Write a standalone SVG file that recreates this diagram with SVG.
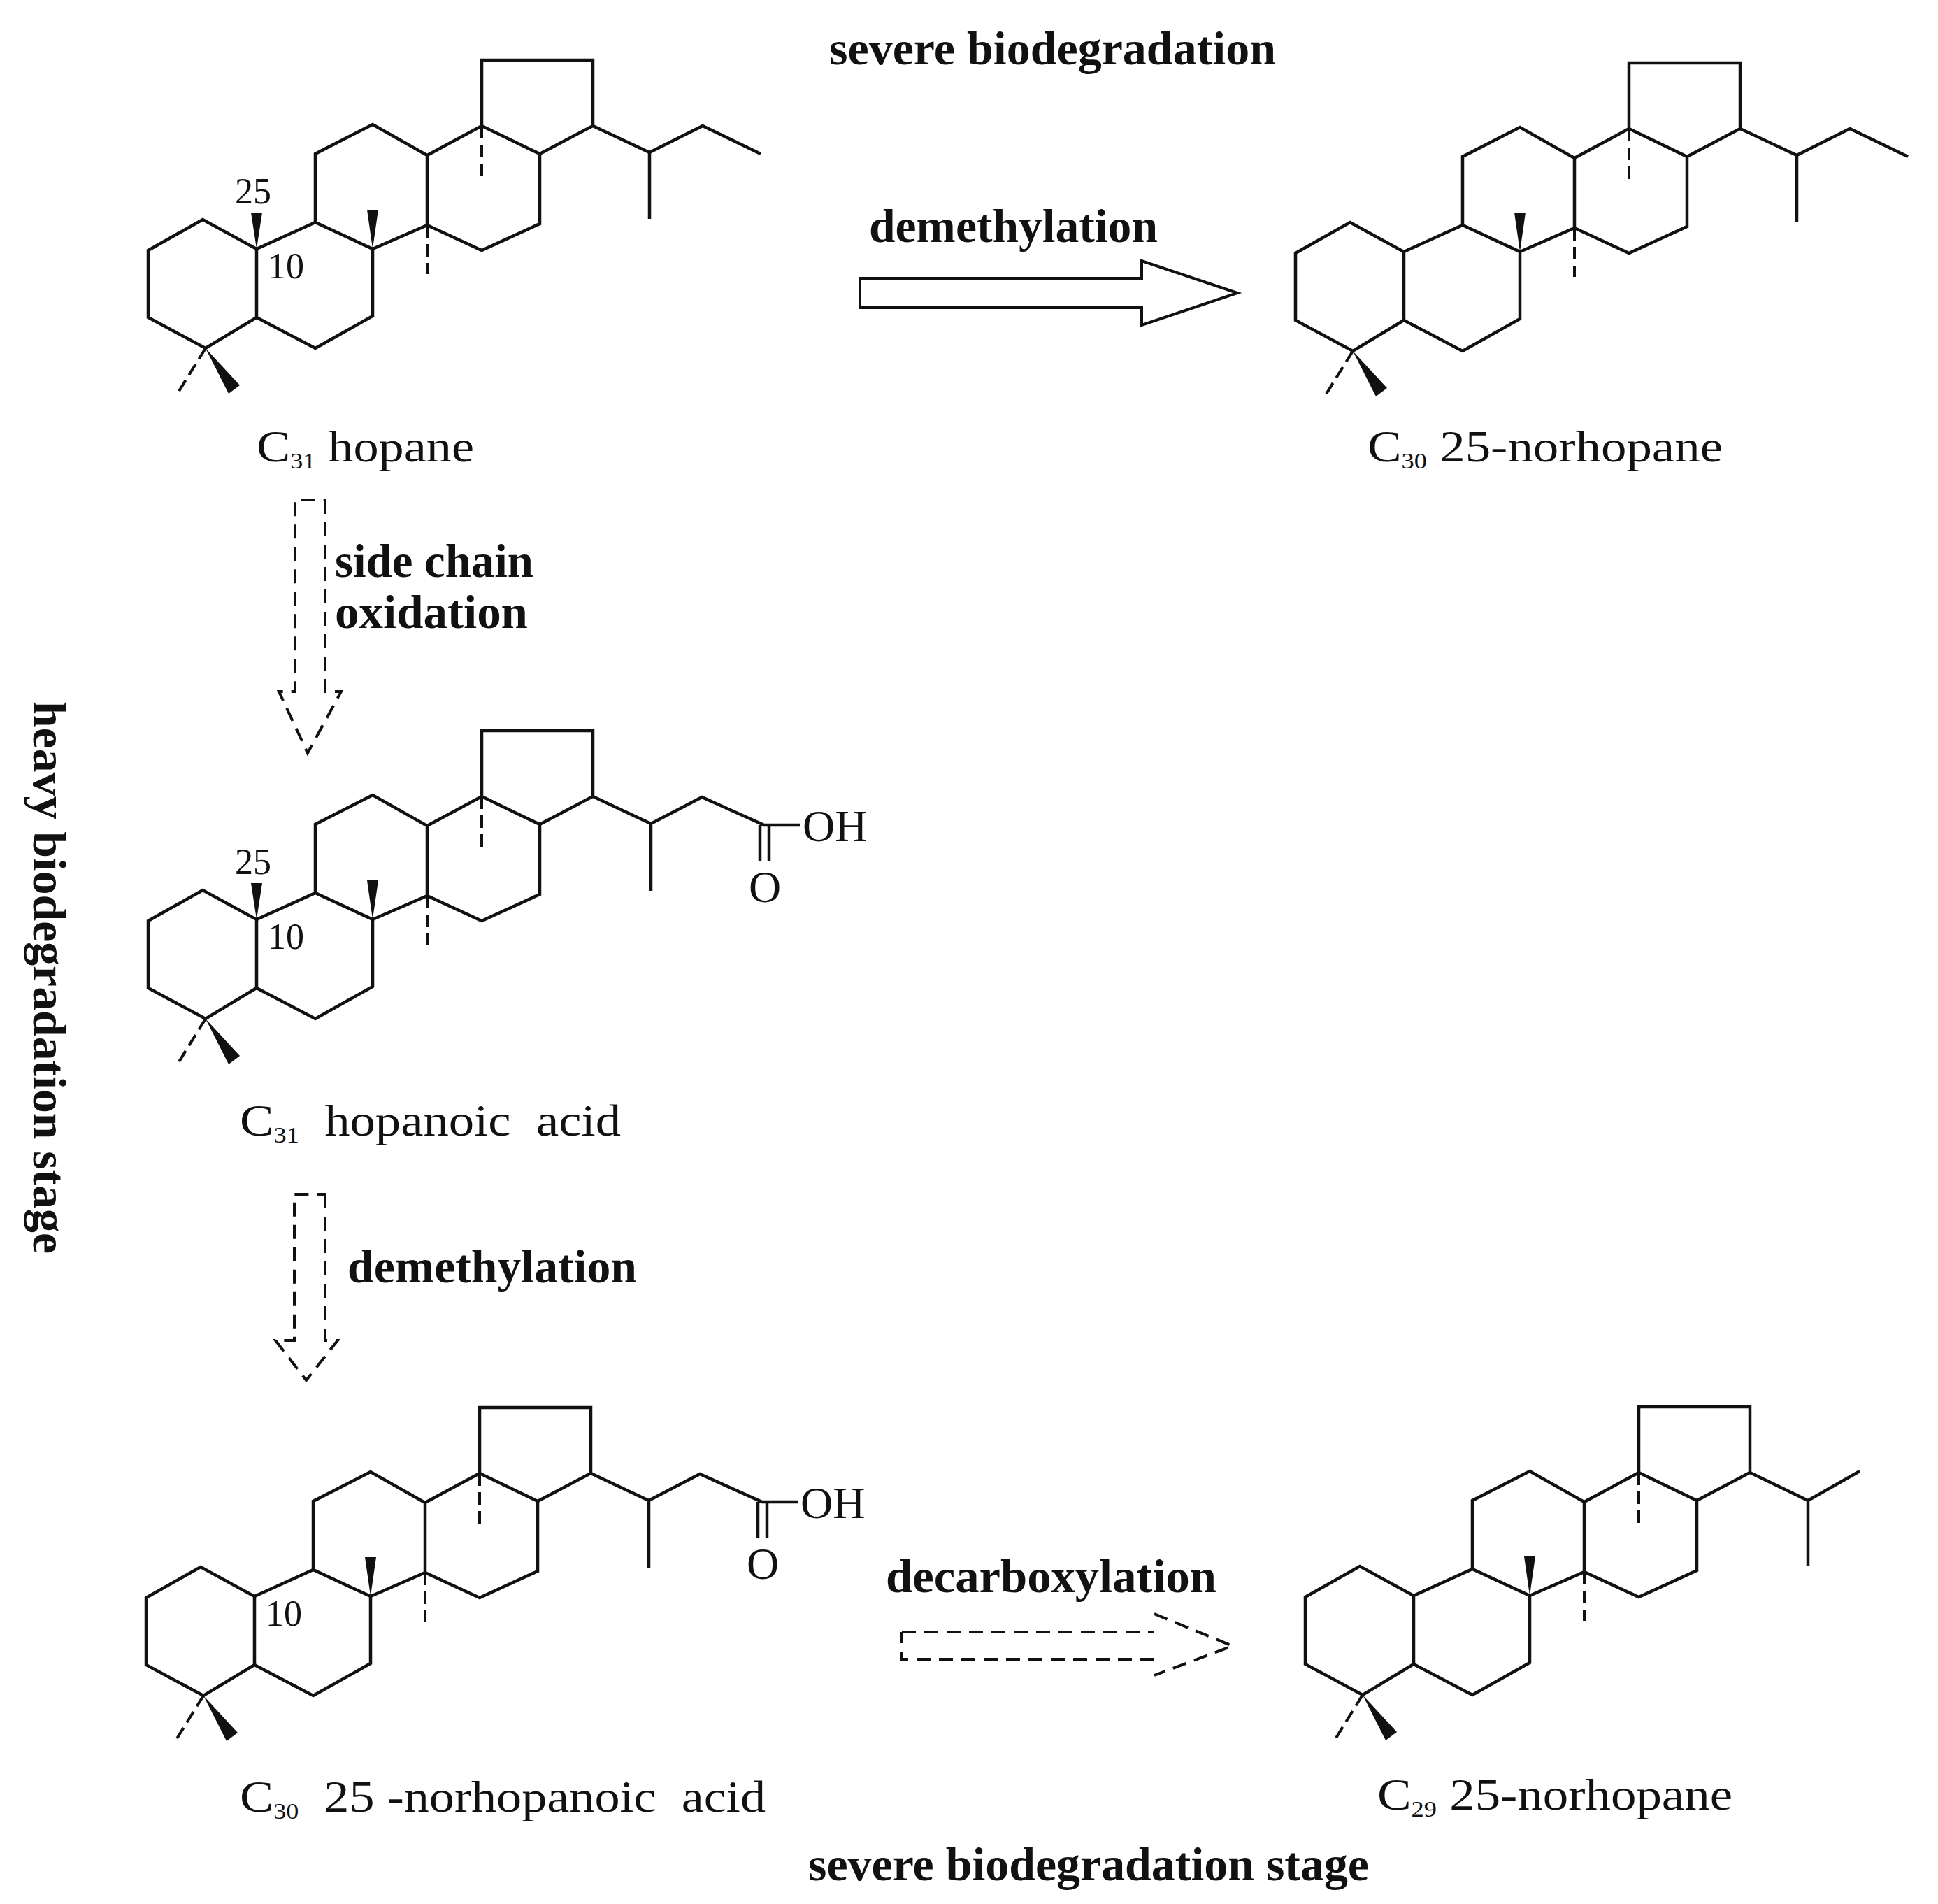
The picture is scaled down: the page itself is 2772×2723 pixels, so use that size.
<svg xmlns="http://www.w3.org/2000/svg" xmlns:xlink="http://www.w3.org/1999/xlink" width="2772" height="2723" viewBox="0 0 2772 2723">
<style>
.b{fill:none;stroke:#111;stroke-width:4.5;stroke-linejoin:miter;stroke-linecap:butt}
.d{fill:none;stroke:#111;stroke-width:4;stroke-dasharray:18 9}
.w{fill:#111;stroke:none}
.lbl{font-family:"Liberation Serif","Times New Roman",serif;fill:#111}
.num{font-family:"Liberation Serif","Times New Roman",serif;font-size:52px;fill:#111}
.bold{font-family:"Liberation Serif","Times New Roman",serif;font-weight:bold;font-size:68px;fill:#111}
.arr{fill:none;stroke:#111;stroke-width:4}
.darr{fill:none;stroke:#111;stroke-width:4;stroke-dasharray:20 12}
</style>
<defs>
<g id="core">
<path class="b" d="M212,358 L290,314 L367,356 L367,454 L294,498 L212,454 Z"/>
<path class="b" d="M367,356 L451,318 L533,356 L533,452 L451,498 L367,454"/>
<path class="b" d="M451,318 L451,220 L533,178 L611,222 L611,322 L533,356"/>
<path class="b" d="M611,222 L689,180 L772,220 L772,320 L689,358 L611,322"/>
<path class="b" d="M689,180 L689,86 L848,86 L848,180 L772,220"/>
<polygon class="w" points="533,356 525,300 541,300"/>
<polygon class="w" points="294,498 343,551 327,563"/>
<line class="d" x1="294" y1="498" x2="255" y2="561"/>
<line class="d" x1="611" y1="322" x2="611" y2="392"/>
<line class="d" x1="689" y1="180" x2="689" y2="255"/>
</g>
<g id="me10">
<polygon class="w" points="367,356 359,304 375,304"/>
<text class="num" x="362" y="291" text-anchor="middle">25</text>
</g>
<g id="sc">
<path class="b" d="M848,180 L929,218 L1005,180 L1088,220 M929,218 L929,313"/>
</g>
<g id="acid">
<path class="b" d="M848,180 L931,219 L1004,181 L1093,221 L1144,221 M931,219 L931,315 M1087,221 L1087,273 M1100,221 L1100,273"/>
<text class="lbl" x="1148" y="244" font-size="64">OH</text>
<text class="lbl" x="1094" y="331" font-size="64" text-anchor="middle">O</text>
</g>
</defs>

<g id="c31-hopane">
<use xlink:href="#core"/><use xlink:href="#me10"/><use xlink:href="#sc"/>
<text class="num" x="383" y="398">10</text>
<text class="lbl" x="367" y="660" font-size="64" textLength="311" lengthAdjust="spacingAndGlyphs">C<tspan font-size="32" dy="10">31</tspan><tspan dy="-10"> hopane</tspan></text>
</g>

<g id="c30-norhopane">
<g transform="translate(1641,4)"><use xlink:href="#core"/><use xlink:href="#sc"/></g>
<text class="lbl" x="1956" y="660" font-size="64" textLength="508" lengthAdjust="spacingAndGlyphs">C<tspan font-size="32" dy="10">30</tspan><tspan dy="-10"> 25-norhopane</tspan></text>
</g>

<g id="c31-hopanoic-acid">
<g transform="translate(0,959)"><use xlink:href="#core"/><use xlink:href="#me10"/><use xlink:href="#acid"/>
<text class="num" x="383" y="398">10</text></g>
<text class="lbl" x="343" y="1624" font-size="64" xml:space="preserve" textLength="545" lengthAdjust="spacingAndGlyphs">C<tspan font-size="32" dy="10">31</tspan><tspan dy="-10">  hopanoic  acid</tspan></text>
</g>

<g id="c30-norhopanoic-acid">
<g transform="translate(-3,1927)"><use xlink:href="#core"/><use xlink:href="#acid"/>
<text class="num" x="383" y="398">10</text></g>
<text class="lbl" x="343" y="2591" font-size="64" xml:space="preserve" textLength="752" lengthAdjust="spacingAndGlyphs">C<tspan font-size="32" dy="10">30</tspan><tspan dy="-10">  25 -norhopanoic  acid</tspan></text>
</g>

<g id="c29-norhopane">
<g transform="translate(1655,1926)"><use xlink:href="#core"/>
<path class="b" d="M848,180 L931,220 L1005,178 M931,220 L931,313"/></g>
<text class="lbl" x="1970" y="2588" font-size="64" textLength="508" lengthAdjust="spacingAndGlyphs">C<tspan font-size="32" dy="10">29</tspan><tspan dy="-10"> 25-norhopane</tspan></text>
</g>

<g id="connectors">
<path class="arr" d="M1230,398 L1633,398 L1633,373 L1770,419 L1633,465 L1633,440 L1230,440 Z"/>
<path class="darr" d="M1290,2334 L1651,2334 M1651,2308 L1763,2354 L1651,2396 M1651,2373 L1290,2373 L1290,2334"/>
<path class="darr" d="M465,715 L465,989 L488,989 L440,1077 L399,989 L422,989 L422,715 Z"/>
<path class="darr" d="M465,1708 L465,1917 L483,1917 L438,1974 L394,1917 L421,1917 L421,1708 Z"/>
</g>

<g id="labels">
<text class="bold" x="1186" y="92" textLength="639" lengthAdjust="spacingAndGlyphs">severe biodegradation</text>
<text class="bold" x="1243" y="346" textLength="413" lengthAdjust="spacingAndGlyphs">demethylation</text>
<text class="bold" x="479" y="825" textLength="284" lengthAdjust="spacingAndGlyphs">side chain</text>
<text class="bold" x="479" y="898" textLength="276" lengthAdjust="spacingAndGlyphs">oxidation</text>
<text class="bold" x="497" y="1834" textLength="414" lengthAdjust="spacingAndGlyphs">demethylation</text>
<text class="bold" x="1267" y="2277" textLength="473" lengthAdjust="spacingAndGlyphs">decarboxylation</text>
<text class="bold" x="1156" y="2689" textLength="802" lengthAdjust="spacingAndGlyphs">severe biodegradation stage</text>
<text class="bold" transform="translate(48,1398) rotate(90)" text-anchor="middle" textLength="790" lengthAdjust="spacingAndGlyphs">heavy biodegradation stage</text>
</g>
</svg>
